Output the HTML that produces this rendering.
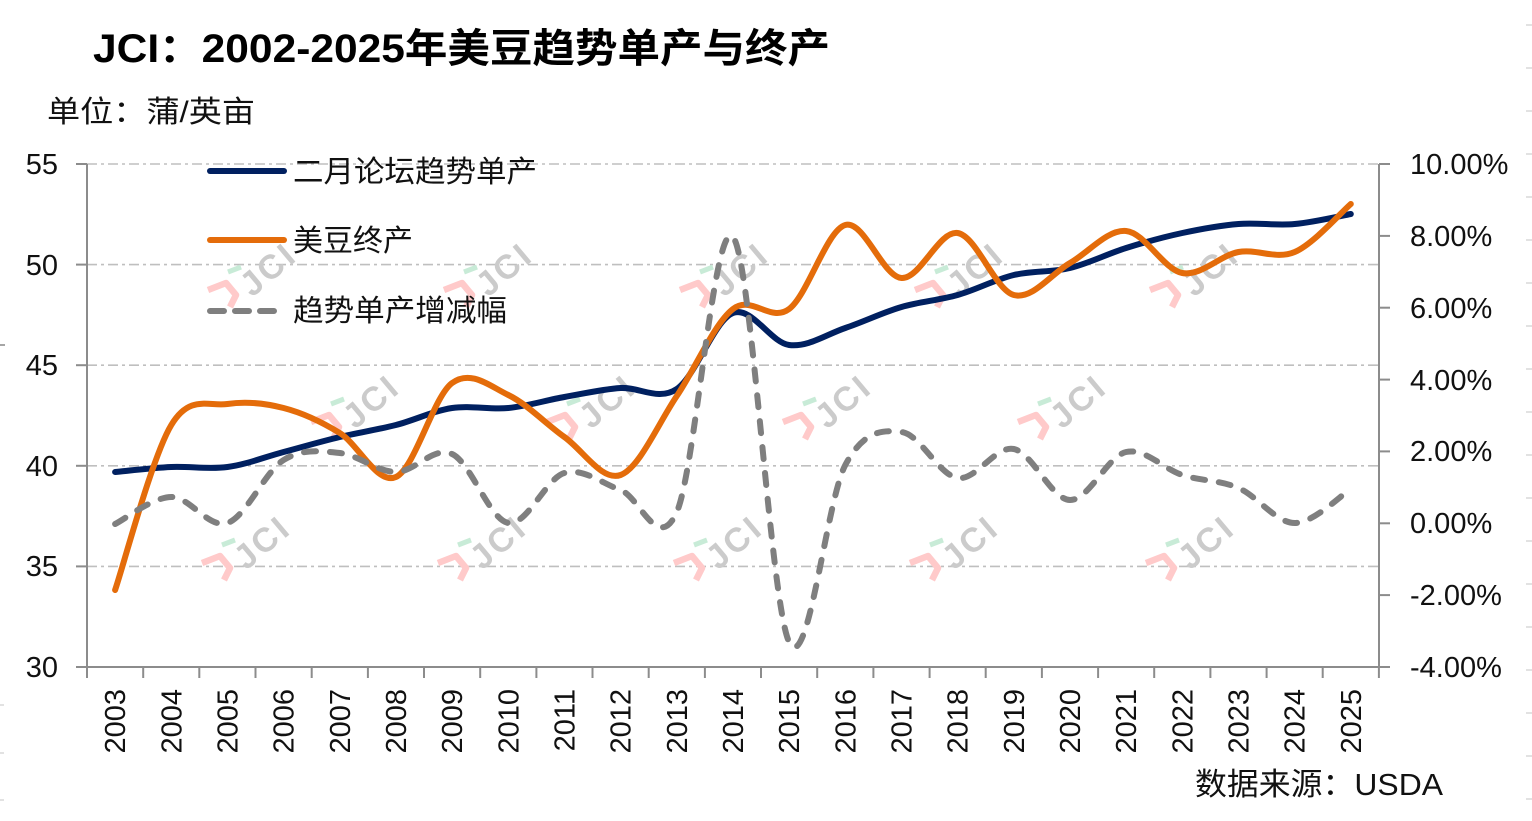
<!DOCTYPE html>
<html><head><meta charset="utf-8"><style>
html,body{margin:0;padding:0;background:#fff;}
svg{display:block;}
text{font-family:"Liberation Sans","Noto Sans CJK SC",sans-serif;}
</style></head><body>
<svg xmlns="http://www.w3.org/2000/svg" width="1532" height="821" viewBox="0 0 1532 821">
<rect x="0" y="0" width="1532" height="821" fill="#fff"/>

<!-- edge marks -->
<g stroke="#cfcfcf" stroke-width="1.2">
<line x1="1526" y1="25" x2="1532" y2="25"/><line x1="1526" y1="68" x2="1532" y2="68"/><line x1="1526" y1="111" x2="1532" y2="111"/><line x1="1526" y1="154" x2="1532" y2="154"/><line x1="1526" y1="197" x2="1532" y2="197"/><line x1="1526" y1="240" x2="1532" y2="240"/><line x1="1526" y1="283" x2="1532" y2="283"/><line x1="1526" y1="326" x2="1532" y2="326"/><line x1="1526" y1="369" x2="1532" y2="369"/><line x1="1526" y1="412" x2="1532" y2="412"/><line x1="1526" y1="455" x2="1532" y2="455"/><line x1="1526" y1="498" x2="1532" y2="498"/><line x1="1526" y1="541" x2="1532" y2="541"/><line x1="1526" y1="584" x2="1532" y2="584"/><line x1="1526" y1="627" x2="1532" y2="627"/><line x1="1526" y1="670" x2="1532" y2="670"/><line x1="1526" y1="713" x2="1532" y2="713"/><line x1="1526" y1="756" x2="1532" y2="756"/><line x1="1526" y1="799" x2="1532" y2="799"/>
<line x1="0" y1="705" x2="4" y2="705"/><line x1="0" y1="753" x2="4" y2="753"/><line x1="0" y1="800" x2="4" y2="800"/>
</g>
<line x1="0" y1="345" x2="5" y2="345" stroke="#888" stroke-width="1.5"/>

<!-- gridlines -->
<g stroke="#bfbfbf" stroke-width="1.6" stroke-dasharray="10 4 3 4">
<line x1="87" y1="164" x2="1379" y2="164"/>
<line x1="87" y1="264.6" x2="1379" y2="264.6"/>
<line x1="87" y1="365.2" x2="1379" y2="365.2"/>
<line x1="87" y1="465.8" x2="1379" y2="465.8"/>
<line x1="87" y1="566.4" x2="1379" y2="566.4"/>
</g>

<!-- watermarks -->
<g>
<g transform="translate(208,290)"><path d="M0,0 L18,-7 L28,5 L22,17" stroke="#ffcaca" stroke-width="6.5" fill="none" stroke-linejoin="round"/><path d="M20,-18 L33,-23" stroke="#c8ebd7" stroke-width="5"/><text transform="translate(44,8) rotate(-40)" font-size="34" font-weight="bold" fill="#cbcbcb" letter-spacing="3">JCI</text></g>
<g transform="translate(444,290)"><path d="M0,0 L18,-7 L28,5 L22,17" stroke="#ffcaca" stroke-width="6.5" fill="none" stroke-linejoin="round"/><path d="M20,-18 L33,-23" stroke="#c8ebd7" stroke-width="5"/><text transform="translate(44,8) rotate(-40)" font-size="34" font-weight="bold" fill="#cbcbcb" letter-spacing="3">JCI</text></g>
<g transform="translate(680,290)"><path d="M0,0 L18,-7 L28,5 L22,17" stroke="#ffcaca" stroke-width="6.5" fill="none" stroke-linejoin="round"/><path d="M20,-18 L33,-23" stroke="#c8ebd7" stroke-width="5"/><text transform="translate(44,8) rotate(-40)" font-size="34" font-weight="bold" fill="#cbcbcb" letter-spacing="3">JCI</text></g>
<g transform="translate(915,290)"><path d="M0,0 L18,-7 L28,5 L22,17" stroke="#ffcaca" stroke-width="6.5" fill="none" stroke-linejoin="round"/><path d="M20,-18 L33,-23" stroke="#c8ebd7" stroke-width="5"/><text transform="translate(44,8) rotate(-40)" font-size="34" font-weight="bold" fill="#cbcbcb" letter-spacing="3">JCI</text></g>
<g transform="translate(1150,290)"><path d="M0,0 L18,-7 L28,5 L22,17" stroke="#ffcaca" stroke-width="6.5" fill="none" stroke-linejoin="round"/><path d="M20,-18 L33,-23" stroke="#c8ebd7" stroke-width="5"/><text transform="translate(44,8) rotate(-40)" font-size="34" font-weight="bold" fill="#cbcbcb" letter-spacing="3">JCI</text></g>

<g transform="translate(311,422)"><path d="M0,0 L18,-7 L28,5 L22,17" stroke="#ffcaca" stroke-width="6.5" fill="none" stroke-linejoin="round"/><path d="M20,-18 L33,-23" stroke="#c8ebd7" stroke-width="5"/><text transform="translate(44,8) rotate(-40)" font-size="34" font-weight="bold" fill="#cbcbcb" letter-spacing="3">JCI</text></g>
<g transform="translate(547,422)"><path d="M0,0 L18,-7 L28,5 L22,17" stroke="#ffcaca" stroke-width="6.5" fill="none" stroke-linejoin="round"/><path d="M20,-18 L33,-23" stroke="#c8ebd7" stroke-width="5"/><text transform="translate(44,8) rotate(-40)" font-size="34" font-weight="bold" fill="#cbcbcb" letter-spacing="3">JCI</text></g>
<g transform="translate(783,422)"><path d="M0,0 L18,-7 L28,5 L22,17" stroke="#ffcaca" stroke-width="6.5" fill="none" stroke-linejoin="round"/><path d="M20,-18 L33,-23" stroke="#c8ebd7" stroke-width="5"/><text transform="translate(44,8) rotate(-40)" font-size="34" font-weight="bold" fill="#cbcbcb" letter-spacing="3">JCI</text></g>
<g transform="translate(1018,422)"><path d="M0,0 L18,-7 L28,5 L22,17" stroke="#ffcaca" stroke-width="6.5" fill="none" stroke-linejoin="round"/><path d="M20,-18 L33,-23" stroke="#c8ebd7" stroke-width="5"/><text transform="translate(44,8) rotate(-40)" font-size="34" font-weight="bold" fill="#cbcbcb" letter-spacing="3">JCI</text></g>

<g transform="translate(202,563)"><path d="M0,0 L18,-7 L28,5 L22,17" stroke="#ffcaca" stroke-width="6.5" fill="none" stroke-linejoin="round"/><path d="M20,-18 L33,-23" stroke="#c8ebd7" stroke-width="5"/><text transform="translate(44,8) rotate(-40)" font-size="34" font-weight="bold" fill="#cbcbcb" letter-spacing="3">JCI</text></g>
<g transform="translate(438,563)"><path d="M0,0 L18,-7 L28,5 L22,17" stroke="#ffcaca" stroke-width="6.5" fill="none" stroke-linejoin="round"/><path d="M20,-18 L33,-23" stroke="#c8ebd7" stroke-width="5"/><text transform="translate(44,8) rotate(-40)" font-size="34" font-weight="bold" fill="#cbcbcb" letter-spacing="3">JCI</text></g>
<g transform="translate(674,563)"><path d="M0,0 L18,-7 L28,5 L22,17" stroke="#ffcaca" stroke-width="6.5" fill="none" stroke-linejoin="round"/><path d="M20,-18 L33,-23" stroke="#c8ebd7" stroke-width="5"/><text transform="translate(44,8) rotate(-40)" font-size="34" font-weight="bold" fill="#cbcbcb" letter-spacing="3">JCI</text></g>
<g transform="translate(910,563)"><path d="M0,0 L18,-7 L28,5 L22,17" stroke="#ffcaca" stroke-width="6.5" fill="none" stroke-linejoin="round"/><path d="M20,-18 L33,-23" stroke="#c8ebd7" stroke-width="5"/><text transform="translate(44,8) rotate(-40)" font-size="34" font-weight="bold" fill="#cbcbcb" letter-spacing="3">JCI</text></g>
<g transform="translate(1146,563)"><path d="M0,0 L18,-7 L28,5 L22,17" stroke="#ffcaca" stroke-width="6.5" fill="none" stroke-linejoin="round"/><path d="M20,-18 L33,-23" stroke="#c8ebd7" stroke-width="5"/><text transform="translate(44,8) rotate(-40)" font-size="34" font-weight="bold" fill="#cbcbcb" letter-spacing="3">JCI</text></g>
</g>

<!-- axes -->
<g stroke="#8c8c8c" stroke-width="2" fill="none">
<line x1="87" y1="164" x2="87" y2="667"/>
<line x1="1379" y1="164" x2="1379" y2="667"/>
<line x1="76" y1="667" x2="1390" y2="667"/>
<line x1="76" y1="164" x2="87" y2="164"/><line x1="76" y1="264.6" x2="87" y2="264.6"/><line x1="76" y1="365.2" x2="87" y2="365.2"/><line x1="76" y1="465.8" x2="87" y2="465.8"/><line x1="76" y1="566.4" x2="87" y2="566.4"/>
<line x1="1379" y1="164" x2="1390" y2="164"/><line x1="1379" y1="235.9" x2="1390" y2="235.9"/><line x1="1379" y1="307.7" x2="1390" y2="307.7"/><line x1="1379" y1="379.6" x2="1390" y2="379.6"/><line x1="1379" y1="451.4" x2="1390" y2="451.4"/><line x1="1379" y1="523.3" x2="1390" y2="523.3"/><line x1="1379" y1="595.1" x2="1390" y2="595.1"/>
<line x1="87" y1="667" x2="87" y2="678"/><line x1="143.2" y1="667" x2="143.2" y2="678"/><line x1="199.3" y1="667" x2="199.3" y2="678"/><line x1="255.5" y1="667" x2="255.5" y2="678"/><line x1="311.7" y1="667" x2="311.7" y2="678"/><line x1="367.9" y1="667" x2="367.9" y2="678"/><line x1="424" y1="667" x2="424" y2="678"/><line x1="480.2" y1="667" x2="480.2" y2="678"/><line x1="536.4" y1="667" x2="536.4" y2="678"/><line x1="592.5" y1="667" x2="592.5" y2="678"/><line x1="648.7" y1="667" x2="648.7" y2="678"/><line x1="704.9" y1="667" x2="704.9" y2="678"/><line x1="761" y1="667" x2="761" y2="678"/><line x1="817.2" y1="667" x2="817.2" y2="678"/><line x1="873.4" y1="667" x2="873.4" y2="678"/><line x1="929.6" y1="667" x2="929.6" y2="678"/><line x1="985.7" y1="667" x2="985.7" y2="678"/><line x1="1041.9" y1="667" x2="1041.9" y2="678"/><line x1="1098.1" y1="667" x2="1098.1" y2="678"/><line x1="1154.2" y1="667" x2="1154.2" y2="678"/><line x1="1210.4" y1="667" x2="1210.4" y2="678"/><line x1="1266.6" y1="667" x2="1266.6" y2="678"/><line x1="1322.7" y1="667" x2="1322.7" y2="678"/><line x1="1378.9" y1="667" x2="1378.9" y2="678"/>
</g>

<!-- left labels -->
<g font-size="29" fill="#111" text-anchor="end">
<text x="58" y="174">55</text>
<text x="58" y="275">50</text>
<text x="58" y="375">45</text>
<text x="58" y="476">40</text>
<text x="58" y="576">35</text>
<text x="58" y="677">30</text>
</g>
<!-- right labels -->
<g font-size="29" fill="#111">
<text x="1410" y="174">10.00%</text>
<text x="1410" y="246">8.00%</text>
<text x="1410" y="318">6.00%</text>
<text x="1410" y="390">4.00%</text>
<text x="1410" y="461">2.00%</text>
<text x="1410" y="533">0.00%</text>
<text x="1410" y="605">-2.00%</text>
<text x="1410" y="677">-4.00%</text>
</g>
<!-- x labels -->
<g font-size="29" fill="#111" text-anchor="end">
<text transform="translate(125.1,689) rotate(-90)">2003</text>
<text transform="translate(181.3,689) rotate(-90)">2004</text>
<text transform="translate(237.4,689) rotate(-90)">2005</text>
<text transform="translate(293.6,689) rotate(-90)">2006</text>
<text transform="translate(349.8,689) rotate(-90)">2007</text>
<text transform="translate(406,689) rotate(-90)">2008</text>
<text transform="translate(462.1,689) rotate(-90)">2009</text>
<text transform="translate(518.3,689) rotate(-90)">2010</text>
<text transform="translate(574.5,689) rotate(-90)">2011</text>
<text transform="translate(630.6,689) rotate(-90)">2012</text>
<text transform="translate(686.8,689) rotate(-90)">2013</text>
<text transform="translate(743,689) rotate(-90)">2014</text>
<text transform="translate(799.1,689) rotate(-90)">2015</text>
<text transform="translate(855.3,689) rotate(-90)">2016</text>
<text transform="translate(911.5,689) rotate(-90)">2017</text>
<text transform="translate(967.6,689) rotate(-90)">2018</text>
<text transform="translate(1023.8,689) rotate(-90)">2019</text>
<text transform="translate(1080,689) rotate(-90)">2020</text>
<text transform="translate(1136.1,689) rotate(-90)">2021</text>
<text transform="translate(1192.3,689) rotate(-90)">2022</text>
<text transform="translate(1248.5,689) rotate(-90)">2023</text>
<text transform="translate(1304.7,689) rotate(-90)">2024</text>
<text transform="translate(1360.8,689) rotate(-90)">2025</text>
</g>

<!-- series -->
<path id="sBlue" fill="none" stroke="#002060" stroke-width="6" stroke-linecap="round" stroke-linejoin="round"
 d="M115.1,472 L171.3,467 L227.4,467 L283.6,452 L339.8,437 L396,425 L452.1,408 L508.3,408 L564.5,397 L620.6,388 L676.8,389 L733,313 L789.1,345 L845.3,328 L901.5,307 L957.6,295 L1013.8,275 L1070,268 L1126.1,248 L1182.3,233 L1238.5,224 L1294.7,224 L1350.8,214"/>
<path id="sOrange" fill="none" stroke="#E46C0A" stroke-width="6" stroke-linecap="round" stroke-linejoin="round"
 d="M115.1,590 L171.3,425 L227.4,404 L283.6,408 L339.8,433 L396,477 L452.1,383 L508.3,395 L564.5,437 L620.6,475 L676.8,396 L733,309 L789.1,309 L845.3,225 L901.5,278 L957.6,233 L1013.8,295 L1070,263 L1126.1,231 L1182.3,273 L1238.5,252 L1294.7,252 L1350.8,204"/>
<path id="sGray" fill="none" stroke="#7F7F7F" stroke-width="6" stroke-linecap="round" stroke-linejoin="round" stroke-dasharray="12 14"
 d="M115.1,524 L171.3,497 L227.4,523 L283.6,460 L339.8,453 L396,472 L452.1,454 L508.3,523 L564.5,473 L620.6,490 L676.8,512 L733,237 L789.1,642 L845.3,465 L901.5,432 L957.6,478 L1013.8,449 L1070,500 L1126.1,452 L1182.3,475 L1238.5,488 L1294.7,523 L1350.8,489"/>

<!-- legend -->
<line x1="210" y1="171" x2="284" y2="171" stroke="#002060" stroke-width="6" stroke-linecap="round"/>
<line x1="210" y1="240" x2="284" y2="240" stroke="#E46C0A" stroke-width="6" stroke-linecap="round"/>
<line x1="210" y1="311" x2="275" y2="311" stroke="#7F7F7F" stroke-width="6" stroke-linecap="round" stroke-dasharray="14 11"/>
<g font-size="30" fill="#111">
<text x="293" y="182" textLength="244" lengthAdjust="spacingAndGlyphs">二月论坛趋势单产</text>
<text x="293" y="251" textLength="120" lengthAdjust="spacingAndGlyphs">美豆终产</text>
<text x="293" y="321" textLength="214" lengthAdjust="spacingAndGlyphs">趋势单产增减幅</text>
</g>

<!-- titles -->
<text x="93" y="62" font-size="40" font-weight="bold" fill="#000" textLength="737" lengthAdjust="spacingAndGlyphs">JCI：2002-2025年美豆趋势单产与终产</text>
<text x="47" y="122" font-size="30" fill="#111" textLength="208" lengthAdjust="spacingAndGlyphs">单位：蒲/英亩</text>
<text x="1195" y="795" font-size="31" fill="#111" textLength="248" lengthAdjust="spacingAndGlyphs">数据来源：USDA</text>
</svg>
<script>
(function(){
  function smooth(ys){
    var n=ys.length, xs=[];
    for(var i=0;i<n;i++) xs.push(87+56.17*(i+0.5));
    var d='M'+xs[0].toFixed(1)+','+ys[0];
    for(var i=0;i<n-1;i++){
      var p0=i>0?i-1:i, p3=i+2<n?i+2:i+1;
      var c1x=xs[i]+(xs[i+1]-xs[p0])/6, c1y=ys[i]+(ys[i+1]-ys[p0])/6;
      var c2x=xs[i+1]-(xs[p3]-xs[i])/6, c2y=ys[i+1]-(ys[p3]-ys[i])/6;
      d+=' C'+c1x.toFixed(1)+','+c1y.toFixed(1)+' '+c2x.toFixed(1)+','+c2y.toFixed(1)+' '+xs[i+1].toFixed(1)+','+ys[i+1];
    }
    return d;
  }
  var blue=[472,467,467,452,437,425,408,408,397,388,389,313,345,328,307,295,275,268,248,233,224,224,214];
  var orange=[590,425,404,408,433,477,383,395,437,475,396,309,309,225,278,233,295,263,231,273,252,252,204];
  var gray=[524,497,523,460,453,472,454,523,473,490,512,237,642,465,432,478,449,500,452,475,488,523,489];
  document.getElementById('sBlue').setAttribute('d',smooth(blue));
  document.getElementById('sOrange').setAttribute('d',smooth(orange));
  document.getElementById('sGray').setAttribute('d',smooth(gray));
})();
</script>
</body></html>
